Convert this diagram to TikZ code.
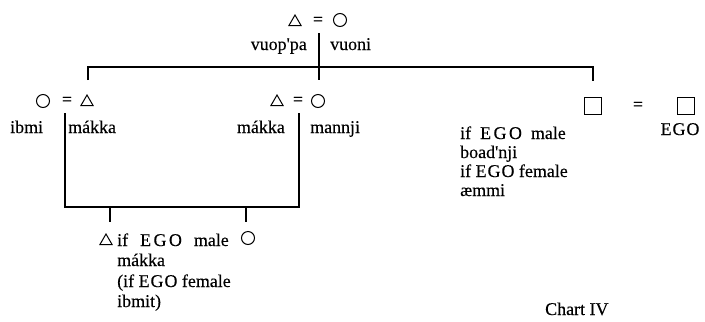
\documentclass[tikz,border=0pt]{standalone}
\usepackage{fontspec}
\setmainfont[FakeBold=0.3]{Liberation Serif}
\usetikzlibrary{shapes.geometric}
\newcommand{\egoword}{E\kern1pt G\kern1pt O}
\newcommand{\egowide}{E\kern2.5pt G\kern2.5pt O}
\begin{document}
\begin{tikzpicture}[x=1bp,y=-1bp,
  lbl/.style={font=\fontsize{18}{20}\selectfont, inner sep=0pt},
  tri/.style={regular polygon, regular polygon sides=3, draw, line width=1bp, minimum size=14bp, inner sep=0pt},
  circ/.style={circle, draw, line width=1bp, minimum size=13bp, inner sep=0pt},
  sq/.style={rectangle, draw, line width=1.4bp, minimum size=17bp, inner sep=0pt},
  ln/.style={line width=1.4bp}]
\useasboundingbox (0,0) rectangle (705,321);
\clip (0,0) rectangle (705,321);
% top couple
\node[tri] (t1) at (295,22) {};
\node[lbl] (e1) at (318,21) {=};
\node[circ] (c1) at (340,20) {};
\node[lbl, anchor=base east] (vuoppa) at (307,50) {vuop\textquotesingle pa};
\node[lbl, anchor=base west] (vuoni) at (330,50) {vuoni};
% left couple
\node[circ] (c2) at (43,101) {};
\node[lbl] (e2) at (67,101) {=};
\node[tri] (t2) at (87,102) {};
\node[lbl, anchor=base west] (ibmi) at (10,133) {ibmi};
\node[lbl, anchor=base west] (makka1) at (68,133) {mákka};
% middle couple
\node[tri] (t3) at (277,102) {};
\node[lbl] (e3) at (298,101) {=};
\node[circ] (c3) at (318,101) {};
\node[lbl, anchor=base east] (makka2) at (285,133) {mákka};
\node[lbl, anchor=base west] (mannji) at (310,133) {mannji};
% right couple
\node[sq] (s1) at (593,106) {};
\node[lbl] (e4) at (638,106) {=};
\node[sq] (s2) at (686,106) {};
\node[lbl, anchor=base] (ego) at (680,135) {\egoword};
\node[lbl, anchor=base west] (r1) at (460,139) {if\hspace{9pt}\egowide\hspace{9pt}male};
\node[lbl, anchor=base west] (r2) at (460,158) {boad\textquotesingle nji};
\node[lbl, anchor=base west] (r3) at (460,177) {if \egoword{} female};
\node[lbl, anchor=base west] (r4) at (460,196) {æmmi};
% children
\node[tri] (t4) at (106,241) {};
\node[circ] (c4) at (248,238) {};
\node[lbl, anchor=base west] (b1) at (117,246) {if\hspace{12pt}\egowide\hspace{12pt}male};
\node[lbl, anchor=base west] (b2) at (117,266) {mákka};
\node[lbl, anchor=base west] (b3) at (117,287) {(if \egoword{} female};
\node[lbl, anchor=base west] (b4) at (117,307) {ibmit)};
% caption
\node[lbl, anchor=base west] (chart) at (545,315) {Chart IV};
% connector points
\coordinate (topm) at (319,33);
\coordinate (midtick) at (319,80);
\coordinate (tl) at (88,67);
\coordinate (tr) at (593,67);
\coordinate (ltick) at (88,80);
\coordinate (rtick) at (593,81);
\coordinate (lv) at (65,113);
\coordinate (mv) at (299,113);
\coordinate (bl) at (65,207);
\coordinate (br) at (299,207);
\coordinate (k1a) at (110,207);
\coordinate (k1b) at (110,222);
\coordinate (k2a) at (246,207);
\coordinate (k2b) at (246,222);
% connectors
\draw[ln] (topm) -- (midtick);
\draw[ln] (ltick) -- (tl) -- (tr) -- (rtick);
\draw[ln] (lv) -- (bl) -- (br) -- (mv);
\draw[ln] (k1a) -- (k1b);
\draw[ln] (k2a) -- (k2b);
\end{tikzpicture}
\end{document}
